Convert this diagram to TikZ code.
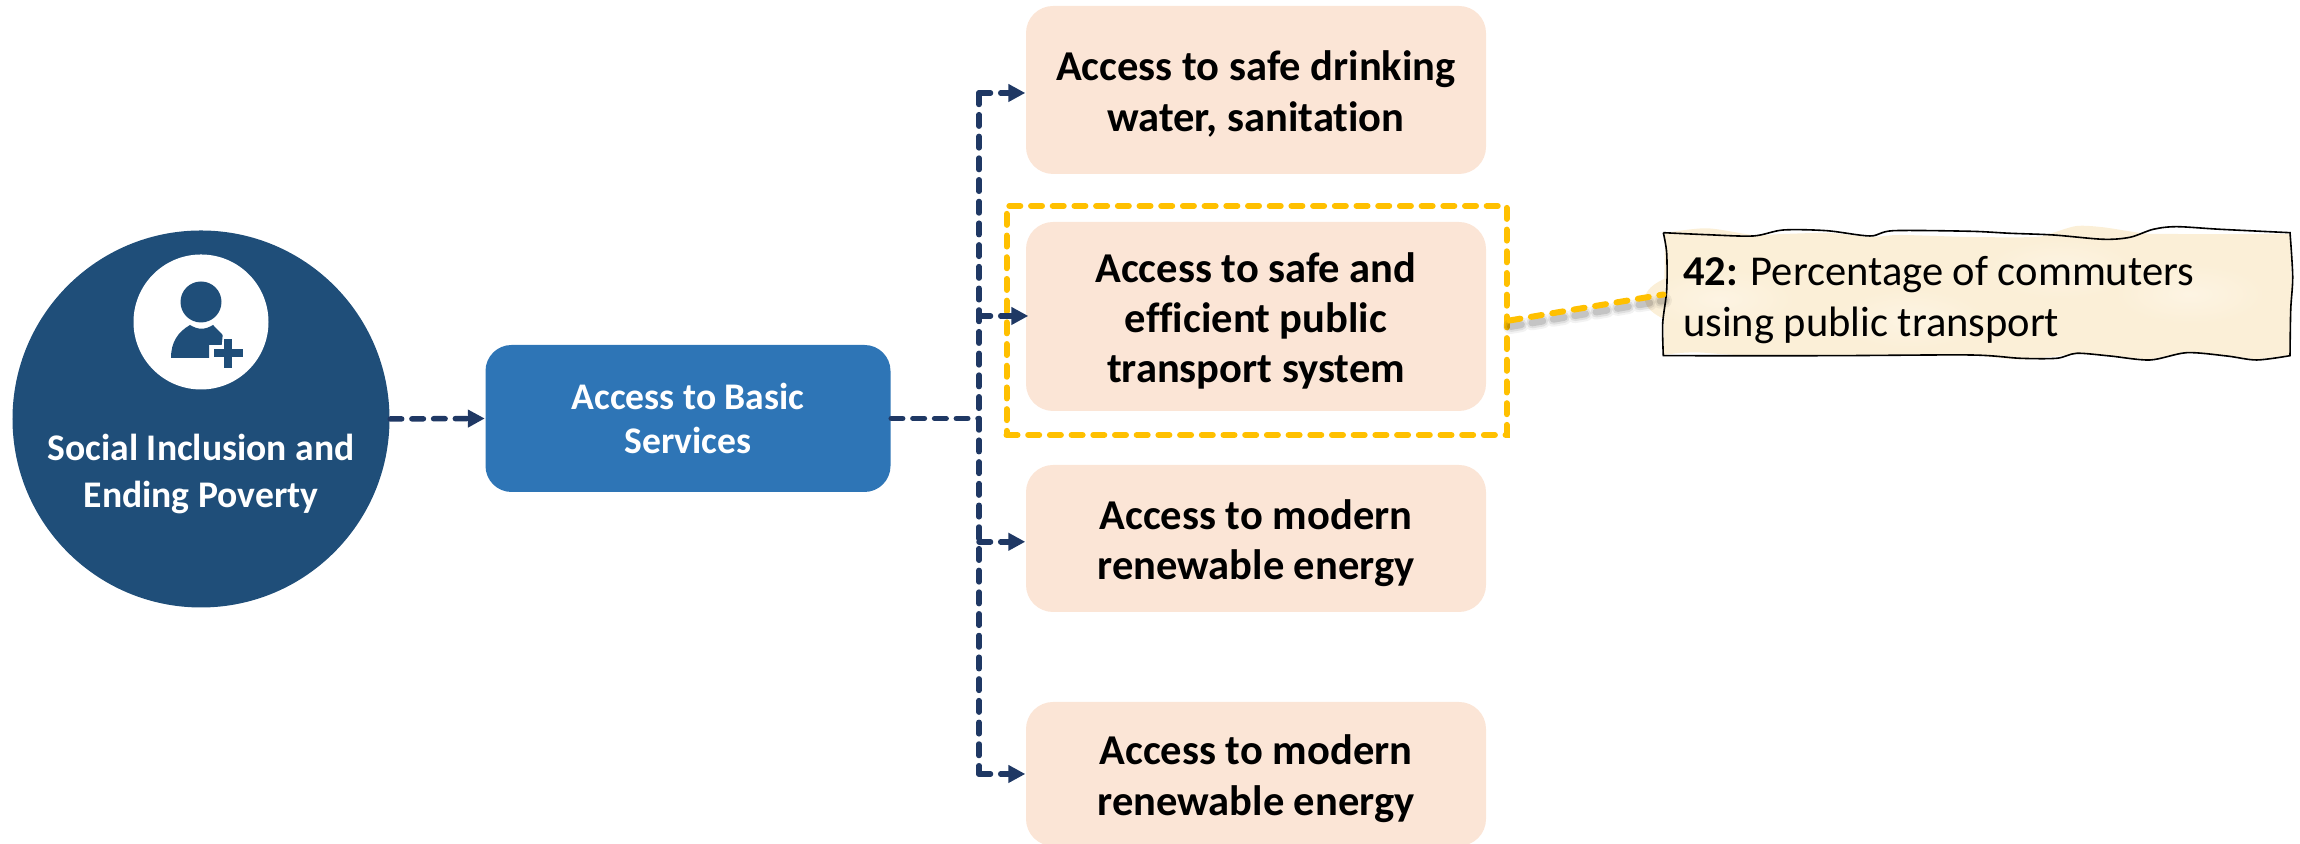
\documentclass[tikz,border=0pt]{standalone}
\usepackage{fontspec}
\setmainfont[Ligatures=NoCommon]{Carlito}
\usetikzlibrary{calc}
\usetikzlibrary{arrows.meta}
\usetikzlibrary{positioning}
\definecolor{DarkCircle}{HTML}{1F4E79}
\definecolor{MidBlue}{HTML}{2E75B6}
\definecolor{Peach}{HTML}{FBE5D6}
\definecolor{Navy}{HTML}{1F3864}
\definecolor{Amber}{HTML}{FFC000}
\definecolor{Paper}{HTML}{FBEFD7}
\definecolor{PaperLight}{HTML}{FDF4E3}
\newcommand{\lowtext}[2][0.06cm]{\raisebox{-#1}[\height][\depth]{\begin{tabular}{@{}c@{}}#2\end{tabular}}}
\newcommand{\paperfill}{plot[smooth] coordinates {(16.65,6.11) (17.067,6.157) (17.533,6.09) (17.83,6.10) (18.3,6.11) (18.7,6.07) (19.0,6.09) (19.70,6.07) (20.35,6.07) (20.533,6.113) (20.767,6.18) (21.033,6.167) (21.433,6.107) (21.70,6.10) (22.90,6.10)} -- (22.92,5.5) -- (22.90,4.89) -- plot[smooth] coordinates {(22.90,4.89) (22.567,4.85) (22.267,4.885) (21.867,4.92) (21.5,4.85) (21.1,4.885) (20.767,4.9) (20.5,4.87) (20.2,4.845) (19.9,4.87) (19.7,4.885) (18.3,4.89) (17.4,4.89) (17.0,4.915) (16.8,4.91) (16.633,4.89)} -- cycle}
\newcommand{\paperedge}{plot[smooth] coordinates {(16.633,6.113) (17.067,6.093) (17.533,6.08) (17.833,6.14) (18.267,6.133) (18.70,6.08) (18.933,6.133) (19.70,6.127) (20.10,6.107) (20.533,6.09) (21.033,6.047) (21.30,6.067) (21.533,6.147) (21.767,6.173) (22.20,6.147) (22.90,6.113)} -- plot[smooth] coordinates {(22.90,6.113) (22.927,5.673) (22.907,5.34) (22.90,4.883)} -- plot[smooth] coordinates {(22.90,4.883) (22.567,4.84) (22.267,4.88) (21.867,4.913) (21.50,4.84) (21.10,4.88) (20.767,4.907) (20.567,4.857) (20.20,4.857) (19.70,4.89) (18.30,4.883) (16.633,4.883)} -- plot[smooth] coordinates {(16.633,4.883) (16.627,5.207) (16.667,5.54) (16.667,5.907) (16.633,6.113)}}

\begin{document}
\begin{tikzpicture}[
MyCircle/.style={circle,fill=DarkCircle,inner sep=0pt,minimum size=3.77cm},
MyBlueBox/.style={rectangle,rounded corners=0.26cm,fill=MidBlue,text=white,inner sep=0pt,minimum width=4.05cm,minimum height=1.47cm,font=\fontsize{10.7}{12.6}\selectfont\bfseries},
MyBoxes/.style={rectangle,rounded corners=0.27cm,fill=Peach,inner sep=0pt,minimum width=4.6cm,font=\fontsize{12.1}{14.3}\selectfont\bfseries},
Flow/.style={draw=Navy,line width=0.055cm,line cap=round,dash pattern=on 0.115cm off 0.102cm},
FlowArrow/.style={Flow,-{Triangle[length=0.17cm,width=0.17cm]}},
Marked/.style={draw=Amber,line width=0.06cm,line cap=round,dash pattern=on 0.11cm off 0.107cm}
]
\path[use as bounding box,clip] (0,0) rectangle (23,8.44);

\node[MyCircle] (Goal) at (2.01,4.25) {};
\node[circle,fill=white,inner sep=0pt,minimum size=1.35cm] (IconDisc) at (2.01,5.22) {};
\node[align=center,text=white,font=\fontsize{10.7}{13.2}\selectfont\bfseries] (GoalText) at (2.01,3.70) {Social Inclusion and\\Ending Poverty};

% person with plus
\fill[DarkCircle] (2.01,5.42) circle (0.205);
\fill[DarkCircle] (1.71,4.86) .. controls (1.71,5.02) and (1.78,5.12) .. (1.90,5.19) .. controls (1.98,5.14) and (2.05,5.14) .. (2.13,5.19) -- (2.227,5.09) -- (2.217,4.99) -- (2.09,4.99) -- (2.09,4.86) -- cycle;
\fill[DarkCircle] (2.143,4.867) rectangle (2.427,4.947);
\fill[DarkCircle] (2.243,4.763) rectangle (2.323,5.05);

\node[MyBlueBox] (Basic) at (6.88,4.255) {\lowtext[0.04cm]{Access to Basic\\Services}};

\node[MyBoxes,minimum height=1.68cm] (Water) at (12.56,7.54) {\lowtext{Access to safe drinking\\water, sanitation}};
\node[MyBoxes,minimum height=1.89cm] (Transport) at (12.56,5.275) {\lowtext{Access to safe and\\efficient public\\transport system}};
\node[MyBoxes,minimum height=1.47cm] (EnergyA) at (12.56,3.055) {\lowtext{Access to modern\\renewable energy}};
\node[MyBoxes,minimum height=1.44cm] (EnergyB) at (12.56,0.70) {\lowtext{Access to modern\\renewable energy}};

\node[rectangle,Marked,minimum width=5.0cm,minimum height=2.29cm,inner sep=0pt] (Highlight) at (12.565,5.235) {};

\coordinate (TrunkTop) at (9.79,7.51);
\coordinate (TrunkMid) at (9.79,5.28);
\coordinate (TrunkLow) at (9.79,3.022);
\coordinate (TrunkEnd) at (9.79,0.70);

% paper note
\fill[Paper] \paperfill;
\foreach \x/\y in {17.2/5.45,19.1/5.25,21.9/5.5,20.6/5.75}
  \shade[inner color=PaperLight,outer color=Paper] (\x,\y) ellipse (0.75 and 0.3);
\draw[black,line width=0.016cm] \paperedge;
\node[text width=5.886cm,inner sep=0.19cm,minimum height=1.25cm,align=flush left,font=\fontsize{12.1}{14.4}\selectfont] (Note) at (19.774,5.44) {\textbf{42:} Percentage of commuters\\using public transport};

% connectors
\draw[FlowArrow] (Goal.east) -- (Basic.west);
\draw[Flow] (Basic.east) -- (Basic.east -| TrunkTop);
\draw[Flow] (TrunkTop) -- (TrunkEnd);
\draw[FlowArrow] (TrunkTop) -- (TrunkTop -| Water.west);
\draw[FlowArrow] (TrunkMid) -- ($(TrunkMid -| Transport.west)+(0.03,0)$);
\draw[FlowArrow] (TrunkLow) -- (TrunkLow -| EnergyA.west);
\draw[FlowArrow] (TrunkEnd) -- (TrunkEnd -| EnergyB.west);

\coordinate (NoteEnd) at ($(Note.west)+(0,0.055)$);
\foreach \s/\o in {0.15/0.05,0.11/0.08,0.07/0.12}
  \draw[line width=\s cm,black,opacity=\o,line cap=round,dash pattern=on 0.11cm off 0.107cm] ($(Highlight.east)+(0.01,-0.06)$) -- ($(NoteEnd)+(0.01,-0.06)$);
\draw[Marked] (Highlight.east) -- (NoteEnd);

\end{tikzpicture}
\end{document}
